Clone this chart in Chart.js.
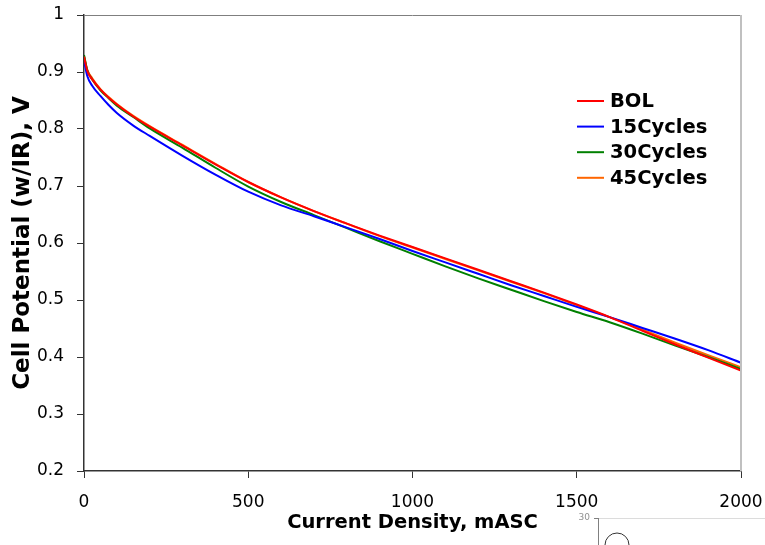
<!DOCTYPE html>
<html>
<head>
<meta charset="utf-8">
<script src="https://cdn.jsdelivr.net/npm/chart.js@4.4.1/dist/chart.umd.min.js"></script>
<style>
  html, body { margin: 0; padding: 0; background: #fff; }
  #wrap { width: 765px; height: 545px; }
</style>
</head>
<body>
<div id="wrap"><canvas id="myChart" width="765" height="545"></canvas></div>
<script>
// current density, mA/cm2
var currentDensity = [0, 10, 25, 50, 75, 100, 150, 200, 300, 400, 500, 600, 700, 800, 900, 1000, 1100, 1200, 1300, 1400, 1500, 1600, 1700, 1800, 1900, 2000];

var bol      = [0.927, 0.902, 0.887, 0.869, 0.855, 0.843, 0.822, 0.804, 0.771, 0.738, 0.707, 0.680, 0.656, 0.634, 0.613, 0.593, 0.573, 0.553, 0.533, 0.513, 0.492, 0.470, 0.446, 0.422, 0.399, 0.376];
var cycles15 = [0.920, 0.893, 0.876, 0.858, 0.842, 0.828, 0.806, 0.788, 0.753, 0.720, 0.690, 0.666, 0.647, 0.627, 0.607, 0.586, 0.566, 0.546, 0.526, 0.507, 0.488, 0.470, 0.451, 0.432, 0.412, 0.390];
var cycles30 = [0.930, 0.903, 0.887, 0.868, 0.854, 0.841, 0.821, 0.801, 0.767, 0.732, 0.699, 0.672, 0.649, 0.626, 0.603, 0.581, 0.559, 0.538, 0.518, 0.498, 0.479, 0.461, 0.441, 0.420, 0.400, 0.379];
var cycles45 = [0.928, 0.904, 0.889, 0.870, 0.856, 0.844, 0.823, 0.805, 0.772, 0.739, 0.707, 0.680, 0.656, 0.634, 0.612, 0.592, 0.572, 0.552, 0.532, 0.512, 0.491, 0.470, 0.448, 0.425, 0.403, 0.382];

var seriesNames = ['BOL', '15Cycles', '30Cycles', '45Cycles'];
var seriesColors = ['#ff0000', '#0000ff', '#008000', '#ff6600'];
var seriesValues = [bol, cycles15, cycles30, cycles45];

var FONT = '"DejaVu Sans", Verdana, sans-serif';

function toPoints(ys) {
    return currentDensity.map(function(x, i) { return { x: x, y: ys[i] }; });
}

var datasets = seriesNames.map(function(name, i) {
    return {
        label: name,
        data: toPoints(seriesValues[i]),
        borderColor: seriesColors[i],
        backgroundColor: seriesColors[i],
        borderWidth: 2,
        pointRadius: 0,
        cubicInterpolationMode: 'monotone',
        fill: false
    };
});

// legend inside the plot + gray frame on top/right + leftover bits of the next figure
var extras = {
    id: 'extras',
    afterDraw: function(chart) {
        var c = chart.ctx, a = chart.chartArea;
        c.save();
        // top and right frame
        c.lineWidth = 1;
        c.strokeStyle = '#7f7f7f';
        c.beginPath();
        c.moveTo(a.left, a.top + 0.5);
        c.lineTo(a.right, a.top + 0.5);
        c.stroke();
        c.strokeStyle = '#c0c0c0';
        c.lineWidth = 2;
        c.beginPath();
        c.moveTo(a.right, a.top);
        c.lineTo(a.right, a.bottom);
        c.stroke();

        // legend
        var lx = 577, ly = 101;
        c.font = 'bold 19.5px ' + FONT;
        c.textBaseline = 'middle';
        c.textAlign = 'left';
        chart.data.datasets.forEach(function(ds, i) {
            var y = ly + i * 25.6;
            c.strokeStyle = ds.borderColor;
            c.lineWidth = 2;
            c.beginPath();
            c.moveTo(lx, y);
            c.lineTo(lx + 27, y);
            c.stroke();
            c.fillStyle = '#000';
            c.fillText(ds.label, lx + 33, y + 1);
        });

        // fragment of neighbouring figure (bottom right)
        c.fillStyle = '#909090';
        c.font = '9px ' + FONT;
        c.textAlign = 'right';
        c.fillText('30', 590, 518);
        c.strokeStyle = '#dcdcdc';
        c.lineWidth = 1;
        c.beginPath();
        c.moveTo(598, 518.5);
        c.lineTo(765, 518.5);
        c.stroke();
        c.strokeStyle = '#808080';
        c.beginPath();
        c.moveTo(598.5, 518);
        c.lineTo(598.5, 545);
        c.moveTo(594, 518.5);
        c.lineTo(599, 518.5);
        c.stroke();
        c.strokeStyle = '#333';
        c.beginPath();
        c.ellipse(617, 545, 12, 12, 0, Math.PI, 2 * Math.PI);
        c.stroke();
        c.restore();
    }
};

var ctx = document.getElementById('myChart').getContext('2d');

new Chart(ctx, {
    type: 'line',
    data: { datasets: datasets },
    plugins: [extras],
    options: {
        responsive: false,
        animation: false,
        layout: { padding: { top: 15, right: 24, left: 0, bottom: 0 } },
        plugins: {
            legend: { display: false },
            tooltip: { enabled: false }
        },
        scales: {
            x: {
                type: 'linear',
                min: 0,
                max: 2000,
                afterFit: function(scale) {
                    scale.height = 74;
                    scale.paddingLeft = 0;
                    scale.paddingRight = 0;
                },
                ticks: {
                    stepSize: 500,
                    color: '#000',
                    padding: 14,
                    maxRotation: 0,
                    font: { family: FONT, size: 17 },
                    callback: function(v) { return String(v); }
                },
                grid: { drawOnChartArea: false, tickLength: 7, color: '#333', lineWidth: 1 },
                border: { color: '#333', width: 1.5 },
                title: {
                    display: true,
                    text: 'Current Density, mASC',
                    color: '#000',
                    padding: { top: 0, bottom: 10 },
                    font: { family: FONT, size: 19.5, weight: 'bold' }
                }
            },
            y: {
                min: 0.2,
                max: 1,
                afterFit: function(scale) {
                    scale.width = 84;
                    scale.paddingTop = 0;
                    scale.paddingBottom = 0;
                },
                ticks: {
                    stepSize: 0.1,
                    color: '#000',
                    padding: 13,
                    font: { family: FONT, size: 17 },
                    callback: function(v) { return String(+v.toFixed(1)); }
                },
                grid: { drawOnChartArea: false, tickLength: 7, color: '#333', lineWidth: 1 },
                border: { color: '#333', width: 1.5 },
                title: {
                    display: true,
                    text: 'Cell Potential (w/IR), V',
                    color: '#000',
                    padding: { top: 9, bottom: 0 },
                    font: { family: FONT, size: 23, weight: 'bold' }
                }
            }
        }
    }
});
</script>
</body>
</html>
